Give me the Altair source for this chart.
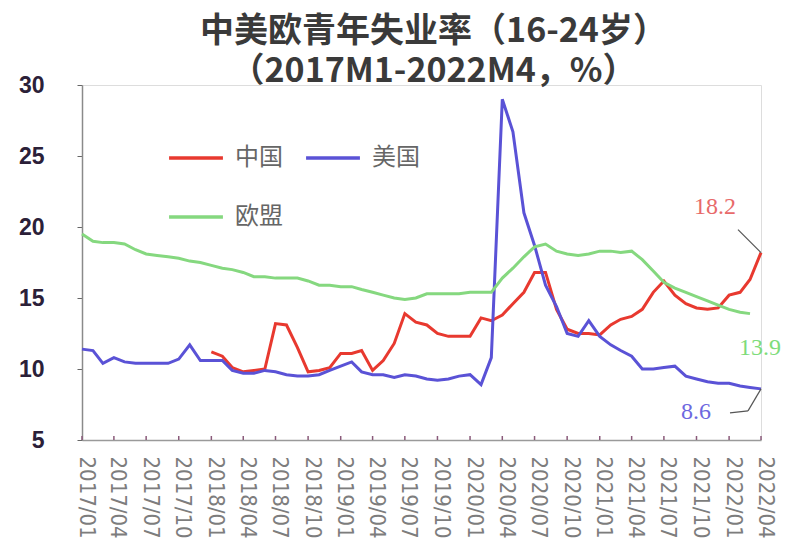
import altair as alt
import pandas as pd

# ---------------- data ----------------
months = pd.date_range("2017-01-01", "2022-04-01", freq="MS").strftime("%Y-%m-%d").tolist()

us = [11.4, 11.3, 10.4, 10.8, 10.5, 10.4, 10.4, 10.4, 10.4, 10.7, 11.7, 10.6,
      10.6, 10.6, 9.9, 9.7, 9.7, 9.9, 9.8, 9.6, 9.5, 9.5, 9.6, 9.9,
      10.2, 10.5, 9.8, 9.6, 9.6, 9.4, 9.6, 9.5, 9.3, 9.2, 9.3, 9.5,
      9.6, 8.9, 10.8, 29.0, 26.7, 21.0, 18.7, 15.9, 14.4, 12.5, 12.3, 13.4,
      12.3, 11.7, 11.3, 10.9, 10.0, 10.0, 10.1, 10.2, 9.5, 9.3, 9.1, 9.0,
      9.0, 8.8, 8.7, 8.6]

# China starts 2018/01
cn = [11.2, 10.9, 10.1, 9.8, 9.9, 10.0, 13.2, 13.1, 11.5, 9.8, 9.9, 10.1,
      11.1, 11.1, 11.3, 9.9, 10.6, 11.8, 13.9, 13.3, 13.1, 12.5, 12.3, 12.3,
      12.3, 13.6, 13.4, 13.8, 14.6, 15.4, 16.8, 16.8, 14.2, 12.8, 12.5, 12.5,
      12.4, 13.1, 13.5, 13.7, 14.2, 15.4, 16.2, 15.2, 14.6, 14.3, 14.2, 14.3,
      15.2, 15.4, 16.3, 18.2]

# EU ends 2022/03
eu = [19.5, 19.0, 18.9, 18.9, 18.8, 18.4, 18.1, 18.0, 17.9, 17.8, 17.6, 17.5,
      17.3, 17.1, 17.0, 16.8, 16.5, 16.5, 16.4, 16.4, 16.4, 16.2, 15.9, 15.9,
      15.8, 15.8, 15.6, 15.4, 15.2, 15.0, 14.9, 15.0, 15.3, 15.3, 15.3, 15.3,
      15.4, 15.4, 15.4, 16.4, 17.1, 17.9, 18.6, 18.8, 18.3, 18.1, 18.0, 18.1,
      18.3, 18.3, 18.2, 18.3, 17.7, 16.9, 16.1, 15.7, 15.4, 15.1, 14.8, 14.5,
      14.2, 14.0, 13.9]

series_names = ["中国", "美国", "欧盟"]
series_colors = ["#e8392f", "#5a52d6", "#85d87f"]
label_colors = ["#e86a6a", "#6d68e0", "#7edc7a"]

tick_months = months[::3]
y_ticks = [5, 10, 15, 20, 25, 30]

title_text = "中美欧青年失业率（16-24岁）"
subtitle_text = "（2017M1-2022M4，%）"

# ---------------- tables ----------------
cn_dates = months[12:12 + len(cn)]
eu_dates = months[:len(eu)]
us_dates = months[:len(us)]

df = pd.concat([
    pd.DataFrame({"date": cn_dates, "value": cn, "series": series_names[0]}),
    pd.DataFrame({"date": us_dates, "value": us, "series": series_names[1]}),
    pd.DataFrame({"date": eu_dates, "value": eu, "series": series_names[2]}),
], ignore_index=True)

ticks_df = pd.DataFrame({"date": tick_months})

def last_point(dates, vals):
    return pd.DataFrame({"date": [dates[-1]], "value": [vals[-1]], "label": [f"{vals[-1]}"]})

cn_last = last_point(cn_dates, cn)
us_last = last_point(us_dates, us)
eu_last = last_point(eu_dates, eu)

# ---------------- scales / axes ----------------
x_scale = alt.Scale(type="utc", domain=[alt.DateTime(year=2017, month=1, date=1, utc=True),
                                        alt.DateTime(year=2022, month=4, date=1, utc=True)])
y_scale = alt.Scale(domain=[5, 30], nice=False, zero=False)

x_axis = alt.Axis(
    values=[alt.DateTime(year=int(d[:4]), month=int(d[5:7]), date=1, utc=True) for d in tick_months],
    labelExpr="utcFormat(datum.value, '%Y/%m')", labelAngle=90, labelFontSize=22,
    labelFont="DejaVu Sans Condensed", labelColor="#7d7d7d", ticks=False,
    domainColor="#9a9a9a", domainWidth=1.5, labelPadding=16, labelOffset=4,
    labelOverlap=False, labelFlush=False, grid=False, title=None)
y_axis = alt.Axis(values=y_ticks, labelFontSize=23, labelFont="Liberation Sans", labelFontWeight="bold",
                  labelColor="#2b2038", tickSize=5, tickColor="#666", domainColor="#8a8a8a",
                  domainWidth=1.5, labelPadding=33, grid=False, title=None)

X = alt.X("date:T", scale=x_scale, axis=x_axis)
Y = alt.Y("value:Q", scale=y_scale, axis=y_axis)

lines = alt.Chart(df).mark_line(strokeWidth=3).encode(
    x=X, y=Y,
    color=alt.Color("series:N",
                    scale=alt.Scale(domain=series_names, range=series_colors),
                    sort=series_names,
                    legend=alt.Legend(title=None, orient="none", legendX=85, legendY=44,
                                      direction="horizontal", columns=2, symbolType="stroke",
                                      symbolSize=2900, symbolStrokeWidth=3.5, labelFontSize=24,
                                      labelFont="Noto Sans CJK SC", labelColor="#666",
                                      columnPadding=16, rowPadding=18, labelOffset=10, padding=0)),
    detail="series:N",
)

xticks = alt.Chart(ticks_df).mark_rule(color="#8a5a7a", strokeWidth=1.5).encode(
    x=X, y=alt.value(351), y2=alt.value(355))

def end_label(d, color, dx, dy):
    return alt.Chart(d).mark_text(font="Liberation Serif", fontSize=24, color=color, dx=dx, dy=dy).encode(
        x=X, y=Y, text="label:N")

cn_text = end_label(cn_last, label_colors[0], -46, -46)
us_text = end_label(us_last, label_colors[1], -65, 23)
eu_text = end_label(eu_last, label_colors[2], 10, 34)

cn_leader = alt.Chart(cn_last).mark_rule(color="#555", strokeWidth=1.2, x2Offset=-23, y2Offset=-23).encode(
    x=X, y=Y, x2="date:T", y2="value:Q")
us_leader1 = alt.Chart(us_last).mark_rule(color="#555", strokeWidth=1.2, x2Offset=-13, y2Offset=22).encode(
    x=X, y=Y, x2="date:T", y2="value:Q")
us_leader2 = alt.Chart(us_last).mark_rule(color="#555", strokeWidth=1.2, xOffset=-13, yOffset=22,
                                          x2Offset=-31, y2Offset=24).encode(
    x=X, y=Y, x2="date:T", y2="value:Q")

chart = alt.layer(xticks, lines, cn_leader, us_leader1, us_leader2, cn_text, us_text, eu_text).properties(
    width=679, height=355,
    title=alt.TitleParams(text=title_text, subtitle=subtitle_text,
                          fontSize=34, font="Noto Sans CJK SC", fontWeight="bold", color="#3a3a3a",
                          subtitleFontSize=34, subtitleFont="Noto Sans CJK SC", subtitleFontWeight="bold",
                          subtitleColor="#3a3a3a", subtitlePadding=6,
                          anchor="middle", dx=12, offset=-15),
    autosize=alt.AutoSizeParams(type="none"),
    padding={"left": 74, "top": 77, "right": 31, "bottom": 108},
).configure_view(stroke=None).configure(background="white")

chart.save("out.html", embed_options={"renderer": "svg", "actions": False})
